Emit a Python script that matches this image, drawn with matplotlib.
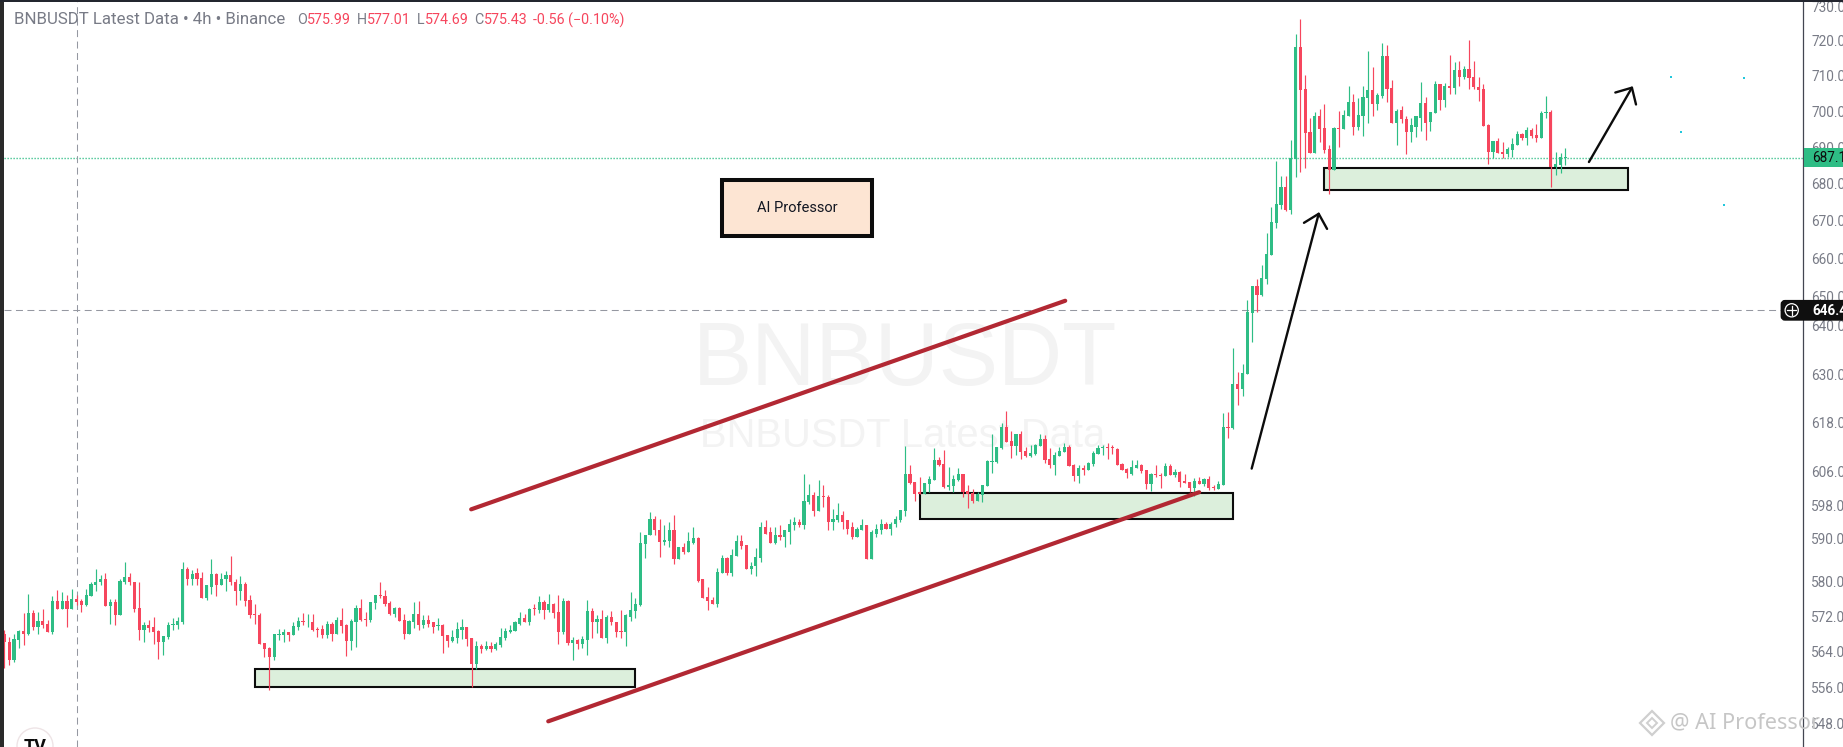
import matplotlib
matplotlib.use("Agg")
import matplotlib.pyplot as plt
from matplotlib.patches import Rectangle, Circle, FancyBboxPatch, Polygon
from matplotlib.ticker import NullLocator
import numpy as np

W, H = 1843, 747

opens = [
    568.0,566.2,562.1,566.7,568.7,568.0,572.8,569.6,571.0,570.3,
    568.5,575.6,573.7,575.6,573.7,576.0,575.6,574.7,576.7,579.3,
    579.8,580.7,574.4,575.3,572.2,580.0,581.1,580.0,574.0,569.0,
    570.1,569.6,568.7,566.2,567.4,570.1,570.1,570.8,583.0,580.5,
    582.1,580.9,576.3,578.8,581.8,579.3,580.5,581.6,580.0,577.9,
    579.5,575.8,572.6,572.4,566.0,564.9,562.8,567.8,567.8,568.5,
    567.8,569.6,571.0,570.6,570.8,569.2,569.2,567.8,570.3,568.0,
    571.2,570.1,566.5,570.8,574.0,571.5,571.2,575.1,577.0,576.7,
    575.1,572.6,574.0,571.2,568.0,570.8,572.6,570.1,571.2,570.6,
    569.9,570.1,567.8,566.5,567.1,569.0,569.6,567.1,561.2,565.3,
    564.6,565.3,564.6,565.5,567.1,568.5,568.7,570.3,571.7,570.6,
    574.0,573.5,575.3,573.5,574.9,573.1,568.5,575.6,566.0,566.7,
    565.8,566.7,573.3,570.8,571.5,567.1,571.9,570.8,568.7,568.5,
    571.9,573.3,574.7,588.8,590.8,594.8,592.2,589.3,589.6,592.2,
    585.3,588.1,587.0,589.1,590.3,580.5,576.5,575.8,574.9,582.1,
    585.6,582.1,586.0,589.6,588.6,583.0,583.7,585.6,592.7,591.5,
    589.1,591.0,590.5,591.7,593.2,593.9,593.2,598.7,600.4,596.5,
    600.1,599.9,593.9,594.4,595.6,594.4,592.7,590.5,592.2,593.2,
    585.3,591.2,592.2,593.6,592.4,593.4,594.4,596.7,605.5,603.5,
    601.1,600.6,603.1,604.0,608.9,607.9,602.3,602.6,604.0,605.5,
    601.3,600.9,599.1,600.4,602.6,608.4,608.4,611.8,617.0,613.6,
    612.3,615.3,611.1,609.9,610.4,612.3,614.0,609.2,607.7,609.9,
    610.9,612.1,607.7,605.0,607.0,606.5,607.9,610.4,611.8,612.1,
    612.1,611.6,607.9,606.7,605.5,607.0,607.7,606.5,603.1,605.5,
    605.3,605.0,607.4,605.3,606.0,603.8,603.5,602.1,603.8,603.1,
    604.3,602.3,601.8,602.8,617.0,616.7,627.7,626.3,630.2,645.8,
    652.8,650.5,654.6,660.9,669.5,674.2,679.1,672.9,686.7,718.1,
    706.1,694.1,688.3,698.5,695.2,689.4,683.6,695.2,695.0,698.5,
    702.5,695.5,698.5,703.6,705.8,702.0,704.2,715.5,706.4,696.6,
    700.3,697.9,694.1,695.7,698.2,702.3,696.9,699.4,707.5,703.0,
    707.2,706.4,711.5,709.5,711.8,709.5,706.9,706.1,696.0,688.6,
    691.6,688.6,688.0,689.1,690.5,693.5,692.4,694.7,693.3,692.4,
    699.4,699.7,684.5,685.1,686.9,
]
closes = [
    566.1,562.1,566.9,568.7,568.0,572.8,569.6,571.0,570.1,568.5,
    575.6,573.7,575.6,573.7,576.0,575.3,574.7,577.0,579.5,580.0,
    580.7,574.4,575.3,572.2,580.2,581.1,579.8,573.7,569.0,570.1,
    569.4,568.5,566.2,567.6,570.1,570.3,571.0,583.0,580.5,581.8,
    580.5,576.3,579.1,581.8,579.3,580.7,581.6,579.8,577.9,579.5,
    575.6,572.4,572.4,565.8,564.6,562.8,568.0,568.0,568.5,567.8,
    569.9,571.0,570.8,570.8,569.0,569.0,567.8,570.3,568.0,571.2,
    569.9,566.5,571.0,574.0,571.2,571.2,575.3,577.0,576.7,574.9,
    572.6,574.0,571.0,568.0,571.0,572.6,570.1,571.2,570.3,569.6,
    570.1,567.6,566.5,567.4,569.2,569.6,566.9,561.2,565.3,564.6,
    565.3,564.6,565.8,567.4,568.7,569.0,570.6,571.7,570.6,573.7,
    573.7,575.3,573.5,574.9,572.8,568.5,575.6,566.0,566.7,565.8,
    566.9,573.3,570.8,571.5,567.1,571.9,570.6,568.5,568.5,572.2,
    573.5,574.9,589.1,591.0,594.8,592.0,589.3,589.8,592.2,585.3,
    588.1,587.0,589.6,590.3,580.2,576.3,575.6,574.9,582.3,585.6,
    582.1,586.3,589.6,588.4,583.0,583.7,585.8,592.7,591.2,589.1,
    591.0,590.5,592.0,593.4,593.9,593.2,598.9,600.4,596.5,600.1,
    599.9,593.9,594.6,595.6,594.1,592.4,590.5,592.4,593.2,585.3,
    591.5,592.4,593.6,592.4,593.6,594.6,596.8,605.5,603.3,600.6,
    600.6,603.3,604.3,608.9,607.7,602.3,602.8,604.3,605.5,601.1,
    600.6,599.1,600.6,602.8,608.7,608.7,612.1,617.0,613.3,612.3,
    615.3,610.9,609.9,610.6,612.6,614.0,608.9,607.7,610.1,611.1,
    612.1,607.4,605.0,607.0,606.5,608.2,610.6,611.8,612.1,611.8,
    611.8,607.7,606.5,605.7,607.2,607.7,606.2,603.1,605.5,605.3,
    605.0,607.4,605.3,606.0,603.5,603.3,602.1,603.8,603.1,604.3,
    602.1,602.1,603.1,617.0,616.7,627.7,626.3,630.5,646.1,652.8,
    650.5,654.9,661.2,669.7,674.5,679.1,672.9,686.9,718.1,705.8,
    693.8,688.3,698.5,695.0,689.1,683.6,695.2,695.0,698.8,702.5,
    695.5,698.8,703.9,705.8,702.0,704.5,715.5,706.1,696.6,700.0,
    697.7,694.1,696.0,698.5,702.3,696.6,699.7,707.5,703.0,707.2,
    706.4,711.5,709.5,711.8,709.2,706.7,705.8,695.8,688.6,691.6,
    688.3,688.0,689.4,690.8,693.5,692.4,694.7,693.0,692.4,699.4,
    699.7,684.5,685.3,687.2,687.2,
]
highs = [
    569.0,567.4,568.0,569.0,572.8,577.2,573.5,573.1,573.7,571.2,
    576.7,578.1,577.7,577.0,578.4,577.0,576.0,578.4,580.0,583.0,
    581.6,582.1,576.0,576.0,580.7,584.6,582.1,580.0,580.0,570.6,
    571.2,571.9,569.0,567.6,570.6,571.7,571.9,584.6,583.5,582.8,
    583.2,582.3,579.3,585.3,582.1,582.1,582.5,586.0,580.5,581.4,
    579.8,577.0,574.9,572.8,566.0,565.1,568.0,569.2,569.2,568.5,
    570.6,571.9,572.8,572.6,572.6,569.6,570.1,571.0,570.6,571.9,
    574.0,570.3,571.5,574.7,576.0,573.1,575.3,577.0,580.0,578.1,
    575.6,574.2,574.2,572.6,571.2,575.3,575.6,572.4,572.4,570.8,
    571.7,570.3,567.8,569.0,570.6,571.5,569.6,567.1,566.5,565.8,
    566.5,566.2,566.2,569.4,569.4,570.1,571.0,573.1,572.6,574.0,
    574.9,576.7,575.8,577.2,575.1,577.0,576.3,575.8,567.4,566.9,
    567.6,575.8,574.0,572.2,573.5,572.2,573.3,570.8,573.5,572.6,
    577.7,576.3,591.5,591.0,596.3,595.3,594.6,593.2,594.1,595.6,
    588.1,589.1,591.5,592.9,590.5,580.7,578.8,576.5,583.2,586.3,
    585.8,587.6,591.0,591.0,588.6,584.6,587.9,593.9,594.4,592.7,
    592.7,593.2,592.2,594.8,595.1,594.8,605.6,603.0,601.1,604.0,
    602.8,600.4,597.0,598.4,596.5,594.4,593.9,592.9,594.8,593.2,
    592.0,593.6,594.6,593.9,593.9,595.3,596.8,612.3,607.7,603.5,
    604.8,603.3,605.0,611.8,609.7,611.4,607.2,605.3,607.0,605.5,
    602.8,601.8,601.1,602.8,608.9,615.3,612.1,618.0,620.9,616.0,
    615.3,616.0,612.1,612.6,612.8,615.3,615.0,611.8,610.9,612.1,
    613.1,612.6,607.9,607.7,607.7,608.4,611.1,612.6,612.6,613.1,
    612.6,611.8,608.2,607.0,608.9,608.9,607.9,606.5,605.7,607.7,
    605.7,608.2,607.9,606.7,606.2,605.5,603.5,604.5,604.8,604.5,
    605.0,602.8,603.8,620.4,620.6,636.8,630.7,632.7,649.1,652.8,
    654.6,658.3,666.7,673.7,686.2,682.1,682.1,692.0,721.8,726.2,
    710.1,698.0,699.7,700.5,702.0,690.5,695.5,700.0,700.3,707.2,
    704.9,703.6,707.0,716.9,712.4,705.2,719.2,718.6,708.7,700.5,
    701.4,698.5,698.2,698.5,708.1,703.9,699.7,708.4,707.5,707.8,
    715.8,713.8,714.1,712.7,720.1,714.1,709.5,707.5,696.3,691.6,
    692.4,691.3,690.0,692.4,694.4,693.8,695.5,695.2,696.3,700.0,
    704.2,700.3,688.6,688.3,689.7,
]
lows = [
    560.3,561.0,561.7,564.9,565.5,567.8,569.0,568.0,569.4,568.5,
    568.0,573.7,573.7,569.6,573.7,574.7,573.1,574.4,576.7,577.9,
    579.3,574.4,570.3,570.1,572.2,579.5,579.1,573.1,566.7,566.2,
    568.5,565.8,562.3,563.3,566.9,569.0,569.2,570.3,579.3,579.3,
    579.3,576.3,575.8,577.2,576.7,579.3,577.9,579.1,574.7,575.8,
    574.4,571.7,570.3,565.8,562.8,555.5,562.1,566.7,566.2,566.5,
    567.8,569.0,570.1,569.6,568.7,567.4,567.1,567.1,566.5,568.0,
    568.3,563.0,564.4,565.1,571.0,569.9,570.8,573.7,576.3,574.4,
    572.2,571.9,571.0,566.9,568.0,569.4,569.0,569.4,569.6,568.3,
    569.0,563.7,565.1,566.2,566.0,566.9,565.3,556.0,560.1,563.7,
    564.4,563.9,564.4,565.1,566.7,568.3,568.7,570.1,570.6,570.1,
    572.4,572.8,571.5,573.1,571.7,565.8,568.0,565.5,562.1,564.6,
    564.9,563.3,567.1,568.3,567.1,566.0,570.1,567.4,567.1,565.3,
    571.0,571.7,574.4,585.6,590.8,591.0,585.8,588.6,588.1,584.2,
    585.3,586.5,587.0,588.8,579.8,576.3,573.5,574.9,574.2,582.1,
    581.6,581.4,586.0,587.6,583.0,581.8,581.2,584.6,591.2,589.1,
    588.8,589.8,588.1,588.8,592.2,592.7,592.4,598.2,595.3,596.5,
    597.5,592.0,592.2,594.1,592.4,591.2,590.0,590.5,592.2,585.3,
    585.3,590.5,591.2,592.4,590.8,592.9,593.9,595.5,603.1,599.1,
    600.6,600.6,601.1,604.0,607.4,602.1,601.6,601.1,603.8,599.9,
    597.4,598.4,598.9,598.7,602.6,605.7,608.2,611.6,613.3,609.4,
    610.1,609.2,609.7,609.7,610.1,612.3,608.2,607.0,605.3,609.9,
    610.9,607.4,603.8,603.3,605.3,606.5,607.4,610.4,610.1,609.2,
    610.4,607.7,606.5,604.5,605.3,607.0,605.7,601.8,601.3,604.8,
    602.1,605.0,605.3,604.8,602.3,603.3,601.1,600.1,603.1,602.6,
    601.6,601.6,601.8,602.8,614.3,616.5,622.5,624.7,630.2,638.3,
    646.1,650.2,653.3,660.9,668.1,673.2,672.6,671.8,681.8,683.1,
    684.2,688.3,688.3,691.3,688.3,677.1,683.6,690.0,695.0,698.5,
    693.3,694.7,693.0,696.6,698.5,700.3,703.6,702.5,696.6,690.5,
    696.6,688.0,691.3,692.7,694.4,692.1,694.4,699.4,700.3,701.1,
    704.9,704.9,707.0,709.0,706.1,706.1,702.7,695.8,685.3,687.0,
    688.3,686.9,687.2,687.4,690.5,692.1,690.5,692.4,691.3,692.4,
    698.2,679.0,682.3,682.8,685.0,
]

# zones as (first bar, last bar, low price, high price)
zones = [(52.0, 130.9, 556.1, 560.2), (190.0, 255.0, 594.8, 601.0), (273.9, 337.0, 678.3, 684.3)]
trend_x = [(96.9, 220.2), (112.9, 248.0)]
trend_y = [(597.0, 648.9), (548.5, 601.1)]
arrow_x = [(258.9, 272.9), (328.9, 338.0)]
arrow_y = [(606.8, 672.3), (685.9, 707.0)]
dot_x = [346, 348, 357, 361]
dot_y = [709.7, 694.3, 674.2, 709.4]
last_price = 687.1
cross_price = 646.45
cross_bar = 15.15
tick_vals = [730, 720, 710, 700, 690, 680, 670, 660, 650, 642.4, 630, 618, 606, 598, 590, 580, 572, 564, 556, 548]
tick_text = ["730.00", "720.00", "710.00", "700.00", "690.00", "680.00", "670.00", "660.00", "650.00", "640.00",
             "630.00", "618.00", "606.00", "598.00", "590.00", "580.00", "572.00", "564.00", "556.00", "548.00"]

GREEN = "#2ebd85"
RED = "#f6465d"
GRAY = "#787b86"
FONT = "Roboto"

fig = plt.figure(figsize=(W / 100, H / 100), dpi=100, facecolor="white")

# watermark sits under the chart
fig.text(905 / W, 1 - 362 / H, "BNBUSDT", fontsize=64, family="Liberation Sans", color="#f3f3f3",
         ha="center", va="center", zorder=-1)
fig.text(903 / W, 1 - 436 / H, "BNBUSDT Latest Data", fontsize=28.7, family="Liberation Sans", color="#f3f3f3",
         ha="center", va="center", zorder=-1)

ax = fig.add_axes([4 / W, 0, 1799 / W, 745 / H], facecolor="none")
ax.set_yscale("log")
ax.set_xlim((4 - 4.3) / 4.818, (1803 - 4.3) / 4.818)
ax.set_ylim(542.9, 731.2)

idx = np.arange(len(opens))
o = np.array(opens)
c = np.array(closes)
colors = [GREEN if b >= a else RED for a, b in zip(opens, closes)]

for x0, x1, lo, hi in zones:
    ax.add_patch(Rectangle((x0, lo), x1 - x0, hi - lo, facecolor="#dcefdc", edgecolor="#0c0c0c", lw=1.5, zorder=1))

ax.vlines(idx, lows, highs, colors=colors, lw=0.85, zorder=2)
ax.bar(idx, np.abs(c - o), bottom=np.minimum(o, c), width=0.66, color=colors, zorder=2.1)

for xs, ys in zip(trend_x, trend_y):
    ax.plot(xs, ys, color="#b22833", lw=3.0, solid_capstyle="round", zorder=3)
for xs, ys in zip(arrow_x, arrow_y):
    ax.annotate("", xy=(xs[1], ys[1]), xytext=(xs[0], ys[0]), zorder=3,
                arrowprops=dict(arrowstyle="->,head_length=0.45,head_width=0.43", color="#0c0c0c", lw=1.7,
                                mutation_scale=20, shrinkA=0, shrinkB=0))
ax.scatter(dot_x, dot_y, s=3.5, marker="s", color="#22c7dc", linewidths=0, zorder=3)

ax.axhline(last_price, color=GREEN, lw=1.0, ls=(0, (0.9, 1.26)), zorder=1.5)
ax.axhline(cross_price, color="#9598a1", lw=0.75, ls=(0, (6.7, 4.3)), zorder=1.5)
ax.axvline(cross_bar, color="#9598a1", lw=0.75, ls=(0, (6.7, 4.3)), zorder=1.5)

for side in ["top", "left", "bottom"]:
    ax.spines[side].set_visible(False)
ax.spines["right"].set_color("#434651")
ax.spines["right"].set_linewidth(0.9)
ax.set_xticks([])
ax.yaxis.tick_right()
ax.set_yticks(tick_vals, labels=tick_text)
ax.yaxis.set_minor_locator(NullLocator())
ax.tick_params(axis="y", length=0, pad=6.0, labelcolor=GRAY, labelsize=9.8)
for t in ax.get_yticklabels():
    t.set_family(FONT)

# pixel overlay for the chrome around the plot
top = fig.add_axes([0, 0, 1, 1], facecolor="none", zorder=5)
top.set_xlim(0, W)
top.set_ylim(H, 0)
top.axis("off")
top.add_patch(Rectangle((0, 0), 4, H, color="#2a2a2a", lw=0))
top.add_patch(Rectangle((0, 0), W, 2, color="#23262f", lw=0))

# header
top.text(14, 20, "BNBUSDT Latest Data • 4h • Binance", fontsize=12.2, family=FONT, color=GRAY, va="center")
for x, s, col in [(296.7, "O", GRAY), (307.2, "575.99", RED), (357, "H", GRAY), (367.4, "577.01", RED),
                  (416.7, "L", GRAY), (425, "574.69", RED), (474.3, "C", GRAY), (484, "575.43", RED),
                  (533, "-0.56 (−0.10%)", RED)]:
    top.text(x, 20, s, fontsize=10.3, family=FONT, color=col, va="center")

# note box
top.add_patch(Rectangle((722, 179.5), 150, 56.5, facecolor="#fde5d3", edgecolor="#0c0c0c", lw=2.9))
top.text(797, 207.5, "AI Professor", fontsize=10.5, family=FONT, color="#131722", ha="center", va="center")

# price labels
top.add_patch(Rectangle((1804, 148), 39, 19, color=GREEN, lw=0))
top.text(1812, 157.8, "687.15", fontsize=9.8, family=FONT, color="#0c0c0c", va="center")
top.add_patch(FancyBboxPatch((1782, 301.3), 70, 18, boxstyle="round,pad=0,rounding_size=3",
                             facecolor="#0f0f0f", edgecolor="#0f0f0f", lw=2))
top.text(1812, 310.8, "646.45", fontsize=9.8, family=FONT, weight="bold", color="white", va="center")
top.add_patch(Circle((1791.7, 310.3), 6.6, facecolor="#0f0f0f", edgecolor="white", lw=0.9))
top.plot([1787.2, 1796.2], [310.3, 310.3], color="white", lw=0.9)
top.plot([1791.7, 1791.7], [305.8, 314.8], color="white", lw=0.9)

# logo bottom left
top.add_patch(Circle((35, 746), 18, facecolor="white", edgecolor="#eee4e6", lw=1))
top.text(35, 747, "TV", fontsize=13, family=FONT, weight="bold", color="#0c0c0c", ha="center", va="center", clip_on=True)

# site watermark bottom right
top.add_patch(Polygon([(1652, 711), (1664, 723), (1652, 735), (1640, 723)], closed=True,
                      facecolor="none", edgecolor="#cfcfcf", lw=1.6))
top.add_patch(Polygon([(1652, 718), (1657, 723), (1652, 728), (1647, 723)], closed=True,
                      facecolor="none", edgecolor="#cfcfcf", lw=1.4))
top.text(1670, 722.5, "@ AI Professor", fontsize=15.6, family="Noto Sans", color="#c6c6c6", va="center")

fig.savefig("out.png", dpi=100)
